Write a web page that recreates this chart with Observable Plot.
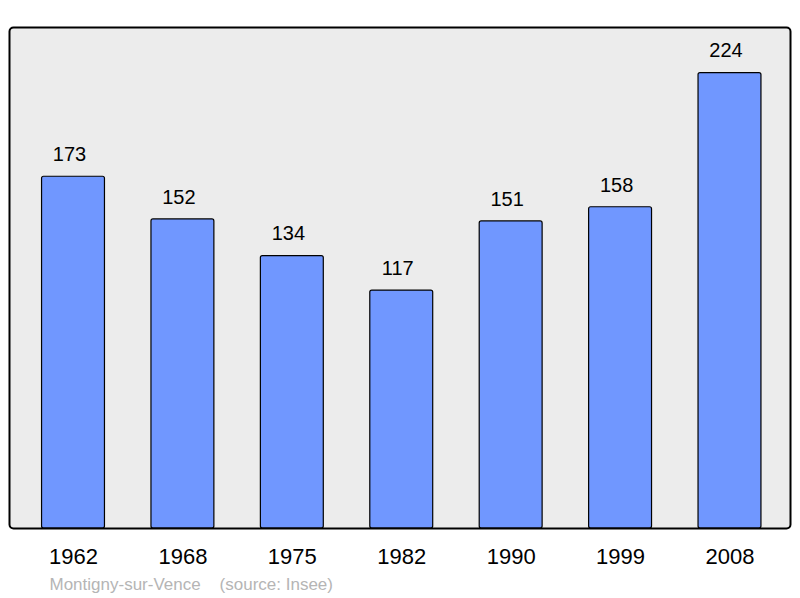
<!DOCTYPE html>
<html>
<head>
<meta charset="utf-8">
<script src="https://cdn.jsdelivr.net/npm/d3@7"></script>
<script src="https://cdn.jsdelivr.net/npm/@observablehq/plot@0.6"></script>
<style>
  html, body { margin: 0; padding: 0; background: #fff; }
  #chart svg { display: block; }
</style>
</head>
<body>
<div id="chart"></div>
<script>
const years = ["1962", "1968", "1975", "1982", "1990", "1999", "2008"];
const population = [173, 152, 134, 117, 151, 158, 224];
const captionText = "Montigny-sur-Vence    (source: Insee)";

const data = years.map((y, i) => ({year: y, value: population[i]}));

const chart = Plot.plot({
  width: 800,
  height: 598,
  marginLeft: 9,
  marginRight: 10,
  marginTop: 27,
  marginBottom: 70,
  style: {fontFamily: "'Liberation Sans', Arial, sans-serif", background: "#fff"},
  x: {domain: years, range: [18.3, 784.2], paddingInner: 0.425, paddingOuter: 0.2125, round: false, label: null},
  y: {domain: [0, 246.4], axis: null},
  marks: [
    Plot.frame({fill: "#ececec", stroke: "none"}),
    Plot.barY(data, {x: "year", y: "value", fill: "#7097ff", stroke: "#000", strokeWidth: 1.2, rx: 2}),
    Plot.text(data, {x: "year", y: "value", text: d => String(d.value), dy: -22, dx: -4, fontSize: 20, fill: "#000"}),
    Plot.frame({stroke: "#000", strokeWidth: 2, rx: 4}),
    Plot.axisX({tickSize: 0, tickPadding: 20, fontSize: 22, fill: "#000", label: null}),
    Plot.text([captionText], {frameAnchor: "bottom-left", text: d => d, dx: 40, dy: 56, lineAnchor: "middle", fontSize: 17, fill: "#b5b5b5", textAnchor: "start"})
  ]
});
chart.querySelectorAll("text").forEach(t => t.style.whiteSpace = "pre");
document.getElementById("chart").appendChild(chart);
</script>
</body>
</html>
